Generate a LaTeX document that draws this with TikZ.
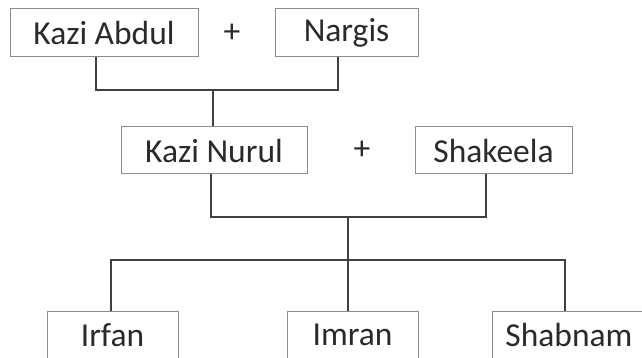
\documentclass[tikz,border=0pt]{standalone}
\usepackage{fontspec}
\setmainfont{Carlito}
\definecolor{boxgray}{HTML}{8C8C8C}
\definecolor{linegray}{HTML}{404040}
\definecolor{textgray}{HTML}{2A2A2A}
\begin{document}
\begin{tikzpicture}[x=1pt,y=-1pt,
  person/.style={draw=boxgray, line width=1pt, text=textgray, inner sep=0pt,
    font=\fontsize{33.5}{38}\selectfont, minimum height=48pt},
  plus/.style={text=textgray, font=\fontsize{33.5}{38}\selectfont, inner sep=0pt},
  conn/.style={draw=linegray, line width=1.6pt}]
\useasboundingbox (0,0) rectangle (642,358);
\clip (0,0) rectangle (642,358);
\node[person, minimum width=188pt] (ka) at (104,33) {Kazi Abdul};
\node[person, minimum width=143pt] (ng) at (346.5,33) {Nargis};
\node[plus] (p1) at (232,33) {+};
\node[person, minimum width=186pt, minimum height=47pt] (kn) at (214,150.5) {Kazi Nurul};
\node[person, minimum width=157pt, minimum height=47pt] (sk) at (493.5,150.5) {Shakeela};
\node[plus] (p2) at (362,150) {+};
\node[person, minimum width=131pt] (ir) at (112.5,335) {Irfan};
\node[person, minimum width=131pt] (im) at (352.5,335) {Imran};
\node[person, minimum width=154pt] (sb) at (569,335) {Shabnam};
\coordinate (j1) at (213,90);
\coordinate (j2) at (348,217);
\coordinate (j3) at (348,260);
\draw[conn] ([xshift=-8pt]ka.south) |- (j1) -| ([xshift=-8.5pt]ng.south);
\draw[conn] (j1) -- ([xshift=-1pt]kn.north);
\draw[conn] ([xshift=-3pt]kn.south) |- (j2) -| ([xshift=-7.5pt]sk.south);
\draw[conn] (j2) -- (j3);
\draw[conn] ([xshift=-1.5pt]ir.north) |- (j3) -| ([xshift=-4pt]sb.north);
\draw[conn] (j3) -- ([xshift=-4.5pt]im.north);
\end{tikzpicture}
\end{document}
